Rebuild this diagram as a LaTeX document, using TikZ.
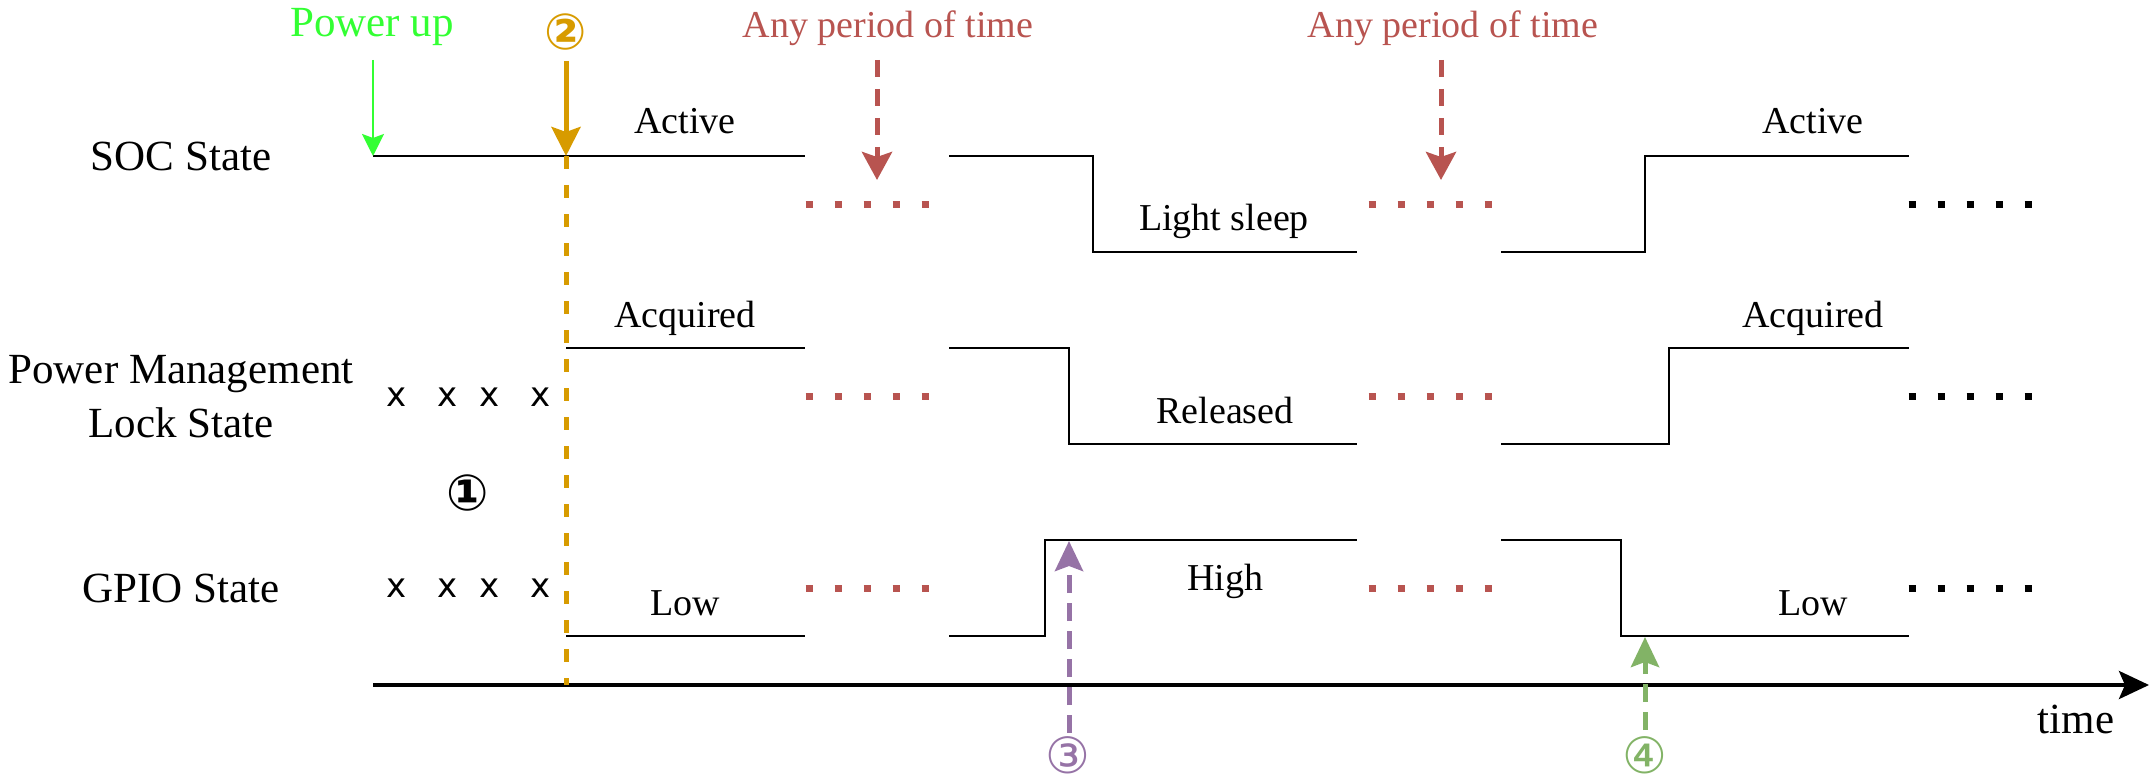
\documentclass[tikz,border=0pt]{standalone}
\usepackage{fontspec}
\setmainfont{Liberation Serif}
\newfontfamily\dejavu{DejaVu Sans}
\usetikzlibrary{arrows.meta}
\definecolor{pwrgreen}{RGB}{51,255,51}
\definecolor{dorange}{HTML}{D79B00}
\definecolor{dred}{HTML}{B85450}
\definecolor{dpurple}{HTML}{9673A6}
\definecolor{dgreen}{HTML}{82B366}
\begin{document}
\begin{tikzpicture}[x=1pt,y=-1pt,
  sig/.style={line width=2.5pt, line join=miter},
  statelbl/.style={font=\fontsize{38}{44}\selectfont, inner sep=0pt, anchor=base},
  rowlbl/.style={font=\fontsize{43}{50}\selectfont, inner sep=0pt, anchor=base},
  circnum/.style={font=\dejavu\fontsize{50}{56}\selectfont, inner sep=0pt},
  circbold/.style={font=\dejavu\bfseries\fontsize{50}{56}\selectfont, inner sep=0pt},
  xmark/.style={font=\dejavu\fontsize{34}{40}\selectfont, inner sep=0pt, anchor=base},
  reddots/.style={dred, line width=7pt, dash pattern=on 7pt off 22pt},
  blackdots/.style={black, line width=7pt, dash pattern=on 7pt off 22pt},
  periodarrow/.style={dred, line width=5pt, dash pattern=on 17pt off 12pt, -{Stealth[length=28pt,width=30pt,inset=5pt]}},
  eventarrow/.style={line width=5pt, dash pattern=on 18pt off 10pt, -{Stealth[length=30pt,width=28pt,inset=5pt]}}
]
\useasboundingbox (0,0) rectangle (2156,781);

% row labels
\node[rowlbl] (soc) at (181,171) {SOC State};
\node[rowlbl] (pm1) at (181,383) {Power Management};
\node[rowlbl] (pm2) at (181,437) {Lock State};
\node[rowlbl] (gpio) at (181,602) {GPIO State};

% unknown states
\foreach \x [count=\i] in {397,448,490,541} {
  \node[xmark] (xa\i) at (\x,406) {x};
  \node[xmark] (xb\i) at (\x,597) {x};
}
\node[circbold] (c1) at (468,493) {①};

% top annotations
\node[rowlbl, text=pwrgreen] (pwrup) at (372,37) {Power up};
\node[circbold, text=dorange] (c2) at (566,32) {②};
\node[statelbl, text=dred] (anyA) at (888,38) {Any period of time};
\node[statelbl, text=dred] (anyB) at (1453,38) {Any period of time};

% state labels
\node[statelbl] (active1) at (685,134) {Active};
\node[statelbl] (sleep) at (1224,230) {Light sleep};
\node[statelbl] (active2) at (1813,134) {Active};
\node[statelbl] (acq1) at (685,327) {Acquired};
\node[statelbl] (rel) at (1225,423) {Released};
\node[statelbl] (acq2) at (1813,327) {Acquired};
\node[statelbl] (low1) at (685,615) {Low};
\node[statelbl] (high) at (1225,590) {High};
\node[statelbl] (low2) at (1813,615) {Low};

% waveforms
\coordinate (socstart) at (373,156);
\draw[sig] (socstart) -- (805,156);
\draw[sig] (949,156) -- (1093,156) -- (1093,252) -- (1357,252);
\draw[sig] (1501,252) -- (1645,252) -- (1645,156) -- (1909,156);

\draw[sig] (566,348) -- (805,348);
\draw[sig] (949,348) -- (1069,348) -- (1069,444) -- (1357,444);
\draw[sig] (1501,444) -- (1669,444) -- (1669,348) -- (1909,348);

\draw[sig] (566,636) -- (805,636);
\draw[sig] (949,636) -- (1045,636) -- (1045,540) -- (1357,540);
\draw[sig] (1501,540) -- (1621,540) -- (1621,636) -- (1909,636);

% continuation dots
\foreach \y in {204,396,588} {
  \draw[reddots] (805.5,\y) -- (929,\y);
  \draw[reddots] (1368.5,\y) -- (1492,\y);
  \draw[blackdots] (1908.5,\y) -- (2032,\y);
}

% time axis
\coordinate (axstart) at (373,685);
\coordinate (axend) at (2149,685);
\draw[line width=4pt, -{Stealth[length=30pt,width=28pt,inset=6pt]}] (axstart) -- (axend);
\node[rowlbl] (time) at (2076,733) {time};

% power up arrow
\coordinate (pwtop) at (373,60);
\draw[pwrgreen, line width=2.5pt, -{Stealth[length=22pt,width=22pt,inset=4pt]}] (pwtop) -- (socstart);

% event 2
\coordinate (o2top) at (566,61);
\coordinate (o2tip) at (566,156);
\coordinate (o2bot) at (566,685);
\draw[dorange, line width=5pt, -{Stealth[length=29pt,width=29pt,inset=5pt]}] (o2top) -- (o2tip);
\draw[dorange, line width=5pt, dash pattern=on 13pt off 16pt] (o2tip) -- (o2bot);

% any period arrows
\coordinate (pa1top) at (877,60);
\coordinate (pa1tip) at (877,180);
\coordinate (pa2top) at (1441,60);
\coordinate (pa2tip) at (1441,180);
\draw[periodarrow] (pa1top) -- (pa1tip);
\draw[periodarrow] (pa2top) -- (pa2tip);

% event 3 and 4
\node[circnum, text=dpurple] (c3) at (1068,755) {③};
\node[circnum, text=dgreen] (c4) at (1645,755) {④};
\coordinate (e3bot) at (1069,733);
\coordinate (e3tip) at (1069,541);
\coordinate (e4bot) at (1645,730);
\coordinate (e4tip) at (1645,637);
\draw[eventarrow, dpurple] (e3bot) -- (e3tip);
\draw[eventarrow, dgreen] (e4bot) -- (e4tip);
\end{tikzpicture}
\end{document}
